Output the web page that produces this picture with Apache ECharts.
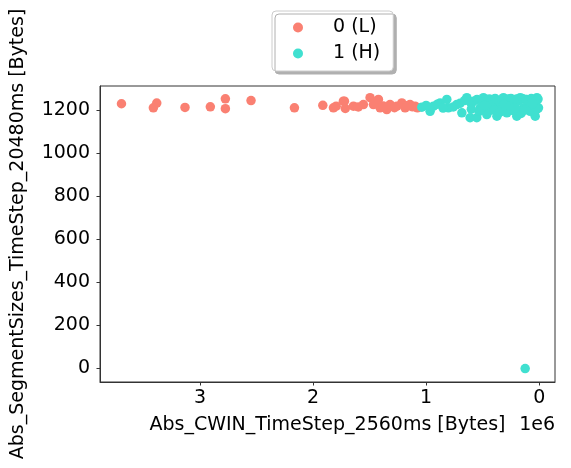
<!DOCTYPE html>
<html><head><meta charset="utf-8">
<script src="https://cdn.jsdelivr.net/npm/echarts@6/dist/echarts.min.js"></script>
<style>html,body{margin:0;padding:0;background:#fff}#c{width:571px;height:468px}</style>
</head><body><div id="c"></div>
<script>
var seriesNames = ['0 (L)', '1 (H)'];
var xTicks = [0, 1000000, 2000000, 3000000];
var yTicks = [0, 200, 400, 600, 800, 1000, 1200];
var lowX = [3695000,3383000,3413000,3133000,2909000,2776000,2776000,2549000,2165000,1914000,1820000,1796000,1723000,1715000,1732000,1643000,1555000,1496000,1466000,1422000,1407000,1348000,1319000,1259000,1215000,1186000,1142000,1097000,1077000,1600000,1380000,1280000,1160000,1120000];
var lowY = [1230,1233,1211,1213,1216,1253,1207,1245,1211,1223,1211,1219,1242,1208,1242,1219,1226,1258,1226,1250,1211,1203,1226,1219,1234,1211,1226,1219,1211,1215,1220,1212,1222,1216];
var highX = [1038000,965000,935000,876000,817000,803000,729000,684000,640000,611000,581000,552000,522000,493000,463000,404000,374000,345000,316000,286000,242000,198000,168000,139000,109000,80000,35000,20000,6000,124000,
 1000000,900000,850000,760000,700000,660000,600000,550000,500000,470000,440000,420000,390000,360000,330000,300000,270000,250000,220000,200000,180000,150000,120000,100000,70000,50000,30000,10000,
 450000,400000,350000,280000,230000,160000,130000,80000,40000,20000,600000,530000,480000,310000,260000,210000,60000];
var highY = [1214,1195,1219,1234,1250,1211,1226,1188,1258,1165,1242,1165,1211,1258,1180,1234,1172,1211,1258,1188,1234,1172,1258,1211,1250,1219,1172,1258,1211,0,
 1222,1228,1210,1215,1232,1245,1230,1250,1238,1248,1252,1225,1255,1245,1250,1240,1252,1255,1248,1252,1244,1255,1250,1246,1254,1248,1240,1252,
 1195,1200,1190,1205,1198,1185,1200,1195,1190,1205,1205,1195,1222,1228,1218,1212,1230];

function zip(a, b) { return a.map(function (v, i) { return [v, b[i]]; }); }
var FONT = 'DejaVu Sans';
var FS = 19;
var chart = echarts.init(document.getElementById('c'), null, {renderer: 'canvas'});
chart.setOption({
  animation: false,
  backgroundColor: '#fff',
  textStyle: {fontFamily: FONT},
  grid: {left: 100, top: 86, width: 455, height: 296, show: true, borderColor: '#333', borderWidth: 1, backgroundColor: 'transparent'},
  legend: {
    orient: 'vertical', left: 272, top: 11,
    padding: [7, 13, 8, 21], itemGap: 7,
    itemWidth: 10, itemHeight: 10,
    backgroundColor: '#fff', borderColor: '#cccccc', borderWidth: 1, borderRadius: 4,
    shadowColor: '#b0b0b0', shadowBlur: 0, shadowOffsetX: 3, shadowOffsetY: 3,
    textStyle: {fontFamily: FONT, fontSize: FS, color: '#000', padding: [0, 0, 0, 25]},
    data: [{name: seriesNames[0], icon: 'circle'}, {name: seriesNames[1], icon: 'circle'}]
  },
  xAxis: {
    type: 'value', inverse: true, min: -140000, max: 3885000,
    name: 'Abs_CWIN_TimeStep_2560ms [Bytes]', nameLocation: 'middle', nameGap: 34,
    nameTextStyle: {fontFamily: FONT, fontSize: FS, color: '#000'},
    axisLine: {show: true, onZero: false, lineStyle: {color: '#333', width: 1}},
    axisTick: {show: true, length: 3.5, lineStyle: {color: '#333'}, customValues: xTicks},
    axisLabel: {customValues: xTicks, margin: 7, fontFamily: FONT, fontSize: FS, color: '#000',
      formatter: function (v) { return String(Math.round(v / 1e6)); }},
    splitLine: {show: false}
  },
  yAxis: {
    type: 'value', min: -62.5, max: 1312.5,
    name: 'Abs_SegmentSizes_TimeStep_20480ms [Bytes]', nameLocation: 'middle', nameGap: 72, nameRotate: 90,
    nameTextStyle: {fontFamily: FONT, fontSize: FS, color: '#000'},
    axisLine: {show: true, onZero: false, lineStyle: {color: '#333', width: 1}},
    axisTick: {show: true, length: 3.5, lineStyle: {color: '#333'}, customValues: yTicks},
    axisLabel: {customValues: yTicks, margin: 10, fontFamily: FONT, fontSize: FS, color: '#000',
      formatter: function (v) { return String(v); }},
    splitLine: {show: false}
  },
  graphic: [{type: 'text', right: 16, top: 416, style: {text: '1e6', font: FS + 'px "DejaVu Sans"', fill: '#000'}}],
  series: [
    {name: seriesNames[0], type: 'scatter', symbol: 'circle', symbolSize: 9.5, itemStyle: {color: '#FA8072', opacity: 1}, data: zip(lowX, lowY)},
    {name: seriesNames[1], type: 'scatter', symbol: 'circle', symbolSize: 9.5, itemStyle: {color: '#40E0D0', opacity: 1}, data: zip(highX, highY)}
  ]
});
</script></body></html>
